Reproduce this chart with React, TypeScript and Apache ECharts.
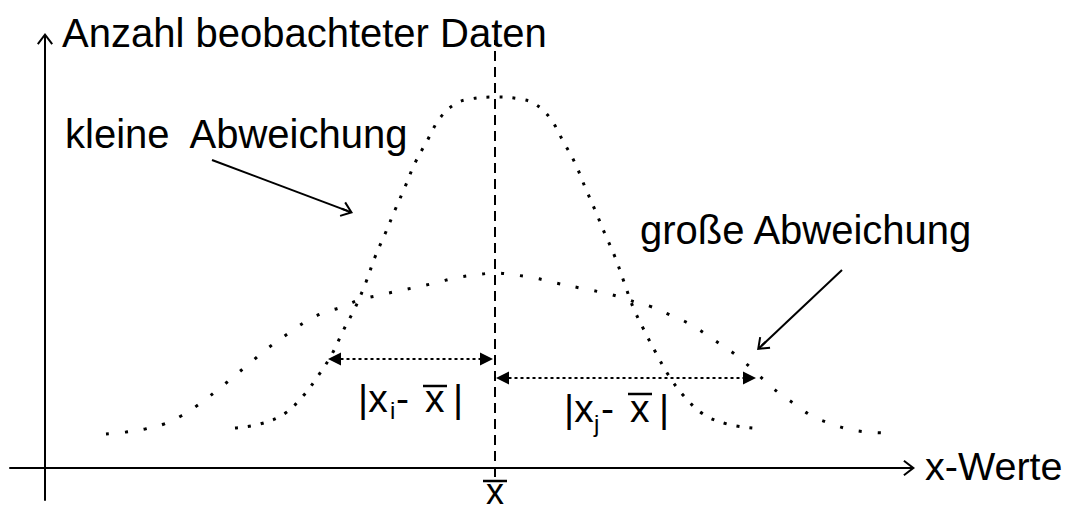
import React, { useEffect, useRef } from "react";
import * as echarts from "echarts";

// Narrow distribution ("kleine Abweichung")
const narrowX = [19.0, 21.5, 23.9, 25.8, 27.3, 28.7, 29.8, 31.0, 32.1, 33.0, 34.0, 35.0, 36.0, 37.0, 38.2, 39.5, 41.0, 42.5, 45.0, 47.5, 49.0, 50.5, 51.8, 53.0, 54.0, 55.0, 56.0, 57.0, 57.9, 58.8, 59.9, 61.1, 62.4, 63.9, 65.8, 68.2, 70.8];
const narrowY = [4.0, 4.4, 5.4, 7.2, 9.2, 11.4, 13.7, 16.0, 18.6, 21.1, 23.4, 25.8, 28.1, 30.5, 32.7, 35.0, 36.4, 36.9, 37.1, 36.9, 36.4, 35.0, 32.7, 30.5, 28.1, 25.8, 23.4, 21.1, 18.6, 16.1, 13.8, 11.5, 9.2, 7.2, 5.4, 4.4, 4.0];

// Wide distribution ("große Abweichung")
const wideX = [6.1, 8.1, 10.0, 11.9, 13.6, 15.3, 17.0, 18.7, 20.5, 22.3, 24.4, 26.0, 27.8, 29.7, 31.4, 33.5, 35.3, 37.2, 39.0, 41.0, 43.0, 45.0, 47.0, 49.0, 51.1, 53.5, 55.5, 57.5, 59.0, 60.7, 62.5, 64.3, 65.9, 67.5, 69.1, 70.6, 72.0, 73.4, 75.1, 76.7, 78.4, 80.3, 82.2, 84.1];
const wideY = [3.4, 3.6, 3.9, 4.4, 5.2, 6.3, 7.6, 9.0, 10.5, 12.0, 13.5, 14.6, 15.5, 16.1, 16.8, 17.3, 17.7, 18.1, 18.5, 19.0, 19.3, 19.5, 19.3, 19.0, 18.5, 18.0, 17.6, 17.1, 16.6, 16.1, 15.3, 14.5, 13.5, 12.4, 11.3, 10.0, 8.7, 7.5, 6.3, 5.2, 4.5, 3.9, 3.6, 3.5];

const MEAN = 45;
// deviation arrows: [x from, x to, y]
const devI = [28.95, 44.15, 10.9];
const devJ = [45.75, 70.45, 9.0];
// annotation pointers: [x1, y1, x2, y2]
const pointerSmall = [16.7, 30.8, 30.24, 25.71];
const pointerLarge = [79.7, 19.8, 71.64, 12.21];

const FONT = "'Liberation Sans', Arial, sans-serif";
const CHEVRON =
  "path://M8,0 L16,10.5 L14.4,11.7 L9,4.6 L9,12 L7,12 L7,4.6 L1.6,11.7 L0,10.5 Z";

function txt(text: string, x: number, y: number, size = 40, align = "left") {
  return {
    type: "text",
    x,
    y,
    silent: true,
    style: {
      text,
      fontSize: size,
      fontFamily: FONT,
      fill: "#000",
      align,
      verticalAlign: "middle",
    },
  };
}

function hline(x1: number, x2: number, y: number) {
  return {
    type: "line",
    silent: true,
    shape: { x1, y1: y, x2, y2: y },
    style: { stroke: "#000", lineWidth: 2.5 },
  };
}

export default function App() {
  const ref = useRef<HTMLDivElement>(null);
  useEffect(() => {
    if (!ref.current) return;
    const chart = echarts.init(ref.current, null, { renderer: "svg" });
    const narrow = narrowX.map((x, i) => [x, narrowY[i]]);
    const wide = wideX.map((x, i) => [x, wideY[i]]);
    chart.setOption({
      animation: false,
      backgroundColor: "#fff",
      grid: { left: 10, right: 159, top: 39, bottom: 12 },
      xAxis: {
        type: "value",
        min: -3.5,
        max: 86.4,
        axisLine: {
          show: true,
          onZero: true,
          symbol: ["none", CHEVRON],
          symbolSize: [16, 12],
          lineStyle: { color: "#000", width: 2 },
        },
        axisTick: { show: false },
        axisLabel: { show: false },
        splitLine: { show: false },
      },
      yAxis: {
        type: "value",
        min: -3.2,
        max: 42.9,
        axisLine: {
          show: true,
          onZero: true,
          symbol: ["none", CHEVRON],
          symbolSize: [16, 12],
          lineStyle: { color: "#000", width: 2 },
        },
        axisTick: { show: false },
        axisLabel: { show: false },
        splitLine: { show: false },
      },
      series: [
        {
          type: "line",
          data: narrow,
          showSymbol: false,
          smooth: 0.4,
          clip: false,
          silent: true,
          lineStyle: { color: "#000", width: 3, type: [3, 10] },
          markLine: {
            silent: true,
            animation: false,
            label: { show: false },
            data: [
              [
                {
                  coord: [MEAN, -0.9],
                  symbol: "none",
                  lineStyle: { color: "#000", width: 2, type: [10, 6] },
                },
                { coord: [MEAN, 42.8], symbol: "none" },
              ],
              [
                {
                  coord: [devI[0], devI[2]],
                  symbol: "triangle",
                  symbolSize: [13, 13],
                  lineStyle: { color: "#000", width: 1.8, type: [3, 3] },
                },
                { coord: [devI[1], devI[2]], symbol: "triangle", symbolSize: [13, 13] },
              ],
              [
                {
                  coord: [devJ[0], devJ[2]],
                  symbol: "triangle",
                  symbolSize: [13, 13],
                  lineStyle: { color: "#000", width: 1.8, type: [3, 3] },
                },
                { coord: [devJ[1], devJ[2]], symbol: "triangle", symbolSize: [13, 13] },
              ],
            ],
          },
        },
        {
          type: "line",
          data: wide,
          showSymbol: false,
          smooth: 0.4,
          clip: false,
          silent: true,
          lineStyle: { color: "#000", width: 3, type: [3, 16] },
          markLine: {
            silent: true,
            animation: false,
            label: { show: false },
            data: [
              [
                {
                  coord: [pointerSmall[0], pointerSmall[1]],
                  symbol: "none",
                  lineStyle: { color: "#000", width: 2, type: "solid" },
                },
                { coord: [pointerSmall[2], pointerSmall[3]], symbol: CHEVRON, symbolSize: [16, 12] },
              ],
              [
                {
                  coord: [pointerLarge[0], pointerLarge[1]],
                  symbol: "none",
                  lineStyle: { color: "#000", width: 2, type: "solid" },
                },
                { coord: [pointerLarge[2], pointerLarge[3]], symbol: CHEVRON, symbolSize: [16, 12] },
              ],
            ],
          },
        },
      ],
      graphic: [
        txt("Anzahl beobachteter Daten", 62, 33.1),
        txt("kleine  Abweichung", 65, 134.1),
        txt("große Abweichung", 640, 230.1),
        txt("x-Werte", 925, 466.3, 39.5),
        // mean label
        txt("x", 495, 491, 36, "center"),
        hline(483, 507, 481),
        // |x_i - x̄|
        txt("|x", 358, 398.5, 39),
        txt("i", 390, 410.7, 24),
        txt("-", 396, 398.5, 39),
        txt("x", 425, 398.5, 39),
        hline(423, 447, 386),
        txt("|", 453, 398.5, 39),
        // |x_j - x̄|
        txt("|x", 564, 408.5, 39),
        txt("j", 594, 423.7, 24),
        txt("-", 601, 408.5, 39),
        txt("x", 630, 408.5, 39),
        hline(628, 652, 394),
        txt("|", 659, 408.5, 39),
      ],
    });
    return () => chart.dispose();
  }, []);
  return (
    <div
      ref={ref}
      style={{ position: "absolute", left: 0, top: 0, width: 1068, height: 512 }}
    />
  );
}
